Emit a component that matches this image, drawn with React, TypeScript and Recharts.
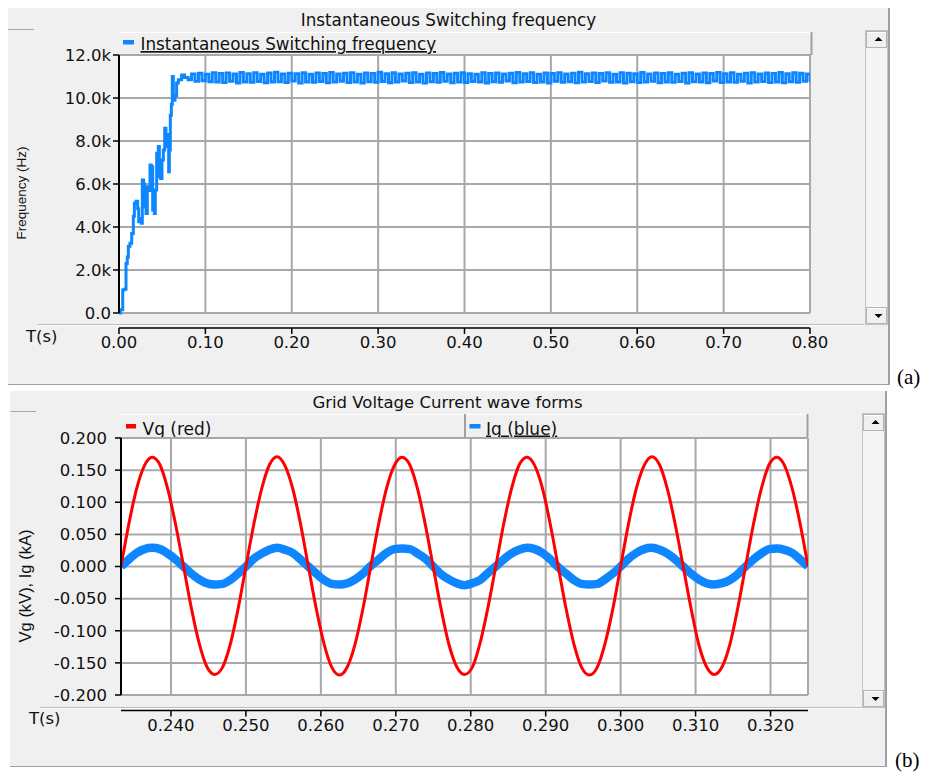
import React from 'react';
import { LineChart, Line, XAxis, YAxis, CartesianGrid, Label } from 'recharts';

const FONT = '"DejaVu Sans", Verdana, sans-serif';
const AXFONT = '"Liberation Sans", Arial, sans-serif';
const BLUE = '#0e86ff';
const RED = '#ff0000';
const GRID = '#a8a8a8';

// ---------- Panel (a): instantaneous switching frequency (kHz) ----------
const riseTime = [0, 0.0015, 0.0043, 0.006, 0.0081, 0.0096, 0.0108, 0.0127, 0.0147, 0.0166,
  0.0178, 0.0197, 0.0216, 0.0228, 0.0243, 0.0258, 0.027, 0.0285, 0.0297, 0.0313,
  0.0328, 0.0343, 0.0359, 0.0374, 0.039, 0.0409, 0.042, 0.0436, 0.0455, 0.0467,
  0.0482, 0.0498, 0.0513, 0.0529, 0.0544, 0.056, 0.0575, 0.0583, 0.0594, 0.0606,
  0.0617, 0.0629, 0.0648, 0.0667, 0.0687, 0.0725];
const riseFreq = [0.0, 0.15, 1.07, 1.1, 2.3, 2.6, 3.1, 3.25, 3.7, 4.5,
  5.1, 5.2, 4.85, 4.25, 4.4, 4.17, 6.19, 6.0, 4.94, 4.63,
  5.87, 5.7, 6.88, 6.8, 4.79, 4.63, 5.72, 7.43, 7.74, 6.34,
  6.26, 7.12, 7.58, 8.59, 8.3, 7.74, 6.57, 7.58, 9.2, 9.7,
  11.0, 9.9, 10.1, 10.7, 10.85, 11.07];
const steadyStart = 0.076;
const steadyStep = 0.004;
const steadyFreq = [
  10.95, 10.85, 11.12, 10.78, 11.15, 10.80, 11.10, 10.76, 11.18, 10.74,
  11.14, 10.72, 11.16, 10.78, 11.12, 10.70, 11.19, 10.75, 11.13, 10.73,
  11.17, 10.77, 11.11, 10.71, 11.16, 10.74, 11.20, 10.76, 11.12, 10.72,
  11.15, 10.79, 11.13, 10.70, 11.18, 10.75, 11.10, 10.73, 11.16, 10.77,
  11.14, 10.71, 11.19, 10.74, 11.12, 10.78, 11.15, 10.72, 11.17, 10.75,
  11.11, 10.70, 11.16, 10.76, 11.14, 10.73, 11.20, 10.77, 11.13, 10.71,
  11.18, 10.74, 11.12, 10.79, 11.15, 10.72, 11.17, 10.75, 11.11, 10.70,
  11.16, 10.76, 11.14, 10.73, 11.19, 10.78, 11.12, 10.71, 11.15, 10.74,
  11.17, 10.72, 11.13, 10.77, 11.10, 10.75, 11.18, 10.70, 11.14, 10.76,
  11.16, 10.73, 11.12, 10.79, 11.15, 10.71, 11.19, 10.74, 11.13, 10.77,
  11.17, 10.72, 11.11, 10.75, 11.16, 10.70, 11.14, 10.78, 11.18, 10.73,
  11.12, 10.76, 11.15, 10.71, 11.20, 10.74, 11.13, 10.77, 11.16, 10.72,
  11.14, 10.79, 11.17, 10.73, 11.11, 10.75, 11.18, 10.70, 11.15, 10.76,
  11.13, 10.72, 11.19, 10.74, 11.12, 10.78, 11.16, 10.71, 11.14, 10.75,
  11.17, 10.73, 11.10, 10.77, 11.15, 10.70, 11.18, 10.76, 11.12, 10.74,
  11.16, 10.71, 11.14, 10.79, 11.19, 10.72, 11.13, 10.75, 11.17, 10.73,
  11.11, 10.78, 11.15, 10.70, 11.18, 10.74, 11.12, 10.77, 11.16, 10.72,
  11.14, 10.75, 11.19, 10.71, 11.13, 10.76, 11.17, 10.73, 11.15, 10.78,
  11.12, 10.74];
const freqTicks = [0, 2, 4, 6, 8, 10, 12];
const timeTicksA = [0, 0.1, 0.2, 0.3, 0.4, 0.5, 0.6, 0.7, 0.8];

// ---------- Panel (b): grid voltage (kV) and current (kA) ----------
const waveStart = 14 / 60;
const waveStep = 1 / 960;
const vgValues = [
  0.000, 0.066, 0.121, 0.157, 0.170, 0.158, 0.120, 0.065, 0.001, -0.064, -0.119, -0.156, -0.168, -0.157, -0.121, -0.066,
  0.000, 0.065, 0.120, 0.158, 0.171, 0.157, 0.121, 0.066, 0.000, -0.065, -0.120, -0.157, -0.169, -0.156, -0.120, -0.065,
  0.001, 0.066, 0.121, 0.157, 0.170, 0.158, 0.120, 0.064, -0.001, -0.066, -0.121, -0.156, -0.168, -0.157, -0.119, -0.064,
  0.000, 0.065, 0.120, 0.158, 0.170, 0.157, 0.121, 0.065, 0.000, -0.065, -0.120, -0.157, -0.169, -0.157, -0.120, -0.066,
  0.000, 0.066, 0.121, 0.157, 0.171, 0.158, 0.120, 0.065, 0.001, -0.064, -0.121, -0.156, -0.168, -0.156, -0.121, -0.065,
  0.000, 0.065, 0.120, 0.158, 0.170, 0.157, 0.120, 0.066, 0.000];
const igValues = [
  0.000, 0.011, 0.021, 0.027, 0.029, 0.027, 0.020, 0.011, 0.000, -0.011, -0.020, -0.026, -0.028, -0.027, -0.021, -0.011,
  0.000, 0.012, 0.020, 0.026, 0.029, 0.026, 0.021, 0.011, 0.000, -0.011, -0.021, -0.027, -0.028, -0.026, -0.020, -0.011,
  0.001, 0.011, 0.021, 0.027, 0.028, 0.027, 0.020, 0.012, 0.000, -0.012, -0.020, -0.026, -0.029, -0.026, -0.021, -0.010,
  0.000, 0.011, 0.020, 0.026, 0.029, 0.027, 0.021, 0.011, -0.001, -0.011, -0.021, -0.027, -0.028, -0.027, -0.020, -0.011,
  0.000, 0.012, 0.021, 0.027, 0.029, 0.026, 0.020, 0.011, 0.000, -0.011, -0.020, -0.026, -0.028, -0.026, -0.021, -0.012,
  0.000, 0.011, 0.020, 0.027, 0.028, 0.026, 0.021, 0.011, 0.000];
const voltTicks = [-0.2, -0.15, -0.1, -0.05, 0, 0.05, 0.1, 0.15, 0.2];
const timeTicksB = [0.24, 0.25, 0.26, 0.27, 0.28, 0.29, 0.3, 0.31, 0.32];

const freqData = [
  ...riseTime.map((t, i) => ({ t, f: riseFreq[i] })),
  ...steadyFreq.map((f, i) => ({ t: steadyStart + i * steadyStep, f })),
];
const waveData = vgValues.map((v, i) => ({ t: waveStart + i * waveStep, vg: v, ig: igValues[i] }));

const makeXTick = (gap: number, base: number, digits: number) => (p: any) => {
  const { x, y, payload } = p;
  return (
    <g>
      <line x1={x} x2={x} y1={y + gap} y2={y + gap + 6} stroke="#000" strokeWidth={1.5} />
      <text x={x} y={y + base} textAnchor="middle" fontFamily={FONT} fontSize={16.5} fill="#111">
        {Number(payload.value).toFixed(digits)}
      </text>
    </g>
  );
};

function ScrollBar({ x, y, w, h }: { x: number; y: number; w: number; h: number }) {
  const cx = x + w / 2 + 2;
  return (
    <g>
      <rect x={x + 0.5} y={y + 0.5} width={w - 1} height={h - 1} fill="#f5f5f5" stroke="#c4c4c4" />
      <rect x={x + 1.5} y={y + 1.5} width={w - 3} height={16} fill="#f0f0f0" stroke="#b4b4b4" />
      <line x1={x + 2} y1={y + 2.5} x2={x + w - 2} y2={y + 2.5} stroke="#fff" />
      <path d={`M${cx - 4} ${y + 11} L${cx + 4} ${y + 11} L${cx} ${y + 7} Z`} fill="#000" />
      <rect x={x + 1.5} y={y + h - 17.5} width={w - 3} height={16} fill="#f0f0f0" stroke="#b4b4b4" />
      <line x1={x + 2} y1={y + h - 16.5} x2={x + w - 2} y2={y + h - 16.5} stroke="#fff" />
      <path d={`M${cx - 4} ${y + h - 11} L${cx + 4} ${y + h - 11} L${cx} ${y + h - 7} Z`} fill="#000" />
    </g>
  );
}

function Frame() {
  return (
    <svg width={927} height={774} style={{ position: 'absolute', left: 0, top: 0 }}>
      <rect x={0} y={0} width={927} height={774} fill="#fff" />
      {/* panel (a) */}
      <rect x={8} y={8} width={881} height={376} fill="#f0f0f0" />
      <line x1={889} y1={8} x2={889} y2={385} stroke="#a0a0a0" strokeWidth={2} />
      <line x1={8} y1={384.5} x2={889} y2={384.5} stroke="#a0a0a0" />
      <line x1={8} y1={29.5} x2={34} y2={29.5} stroke="#a8a8a8" />
      <line x1={37} y1={324.5} x2={864} y2={324.5} stroke="#bcbcbc" />
      <line x1={37} y1={325.5} x2={864} y2={325.5} stroke="#fff" />
      <text x={448.5} y={26} textAnchor="middle" fontFamily={FONT} fontSize={16.8} fill="#111">
        Instantaneous Switching frequency
      </text>
      <rect x={119} y={32} width={693} height={23} fill="#f0f0f0" />
      <line x1={119} y1={32.5} x2={812} y2={32.5} stroke="#fff" />
      <line x1={811.5} y1={32} x2={811.5} y2={55} stroke="#a0a0a0" strokeWidth={2} />
      <line x1={119} y1={54.5} x2={812} y2={54.5} stroke="#a0a0a0" />
      <rect x={123} y={40} width={11} height={4.5} fill={BLUE} />
      <text x={140.5} y={50} fontFamily={FONT} fontSize={16.8} fill="#111" style={{ textDecoration: 'underline' }}>
        Instantaneous Switching frequency
      </text>
      <ScrollBar x={865} y={30} w={23} h={295} />
      <text x={897} y={384} fontFamily='"Liberation Serif", serif' fontSize={21} fill="#000">(a)</text>

      {/* panel (b) */}
      <rect x={10} y={391} width={876} height={375} fill="#f0f0f0" />
      <line x1={886} y1={391} x2={886} y2={767} stroke="#a0a0a0" strokeWidth={2} />
      <line x1={10} y1={766.5} x2={886} y2={766.5} stroke="#a0a0a0" />
      <line x1={10} y1={411.5} x2={36} y2={411.5} stroke="#a8a8a8" />
      <line x1={40} y1={707.5} x2={862} y2={707.5} stroke="#bcbcbc" />
      <line x1={40} y1={708.5} x2={862} y2={708.5} stroke="#fff" />
      <text x={447.5} y={408} textAnchor="middle" fontFamily={FONT} fontSize={16.5} fill="#111">
        Grid Voltage Current wave forms
      </text>
      <rect x={119} y={414} width={689} height={23} fill="#f0f0f0" />
      <line x1={119} y1={414.5} x2={808} y2={414.5} stroke="#fff" />
      <line x1={465} y1={414} x2={465} y2={437} stroke="#a0a0a0" strokeWidth={2} />
      <line x1={807.5} y1={414} x2={807.5} y2={437} stroke="#a0a0a0" strokeWidth={2} />
      <line x1={119} y1={437.5} x2={808} y2={437.5} stroke="#a0a0a0" />
      <rect x={126} y={424} width={10} height={4.5} fill={RED} />
      <text x={142.5} y={434.5} fontFamily={FONT} fontSize={17} fill="#111">Vg (red)</text>
      <rect x={469.5} y={424} width={11} height={4.5} fill={BLUE} />
      <text x={486} y={434.5} fontFamily={FONT} fontSize={17} fill="#111" style={{ textDecoration: 'underline' }}>
        Ig (blue)
      </text>
      <ScrollBar x={862} y={413} w={23} h={295} />
      <text x={895} y={767} fontFamily='"Liberation Serif", serif' fontSize={21} fill="#000">(b)</text>
    </svg>
  );
}

export default function App() {
  return (
    <div style={{ position: 'absolute', left: 0, top: 0, width: 927, height: 774, background: '#fff' }}>
      <Frame />
      <div style={{ position: 'absolute', left: 0, top: 0 }}>
        <LineChart width={830} height={360} data={freqData} margin={{ top: 55, right: 20, left: 0, bottom: 0 }}>
          <CartesianGrid stroke={GRID} strokeWidth={2} fill="#fff" />
          <XAxis
            dataKey="t"
            type="number"
            domain={[0, 0.8]}
            ticks={timeTicksA}
            interval={0}
            height={47}
            allowDataOverflow
            tickSize={0}
            tickMargin={0}
            tickLine={false}
            axisLine={{ stroke: '#000', strokeWidth: 1.5, transform: 'translate(0,15)' } as any}
            tick={makeXTick(15, 35, 2)}
          >
            <Label
              content={() => (
                <text x={26} y={342} fontFamily={FONT} fontSize={16.5} fill="#111">T(s)</text>
              )}
            />
          </XAxis>
          <YAxis
            type="number"
            domain={[0, 12]}
            ticks={freqTicks}
            interval={0}
            width={119}
            tickSize={6}
            tickMargin={2}
            axisLine={{ stroke: '#000', strokeWidth: 2 }}
            tickLine={{ stroke: '#000', strokeWidth: 1.5 }}
            tick={{ fontFamily: FONT, fontSize: 16.5, fill: '#111' }}
            tickFormatter={(v: number) => (v === 0 ? '0.0' : `${v.toFixed(1)}k`)}
          >
            <Label
              content={() => (
                <text transform="translate(26,193) rotate(-90)" textAnchor="middle" fontFamily={AXFONT} fontSize={13.5} fill="#111">
                  Frequency (Hz)
                </text>
              )}
            />
          </YAxis>
          <Line type="stepAfter" dataKey="f" stroke={BLUE} strokeWidth={3} dot={false} isAnimationActive={false} />
        </LineChart>
      </div>
      <div style={{ position: 'absolute', left: 0, top: 380 }}>
        <LineChart width={830} height={380} data={waveData} margin={{ top: 58, right: 22, left: 0, bottom: 0 }}>
          <CartesianGrid stroke={GRID} strokeWidth={2} fill="#fff" />
          <XAxis
            dataKey="t"
            type="number"
            domain={[waveStart, 0.325]}
            ticks={timeTicksB}
            interval={0}
            height={65}
            allowDataOverflow
            tickSize={0}
            tickMargin={0}
            tickLine={false}
            axisLine={{ stroke: '#000', strokeWidth: 1.5, transform: 'translate(0,15.5)' } as any}
            tick={makeXTick(15.5, 36, 3)}
          >
            <Label
              content={() => (
                <text x={29} y={344} fontFamily={FONT} fontSize={16.5} fill="#111">T(s)</text>
              )}
            />
          </XAxis>
          <YAxis
            type="number"
            domain={[-0.2, 0.2]}
            ticks={voltTicks}
            interval={0}
            width={121}
            tickSize={6}
            tickMargin={8}
            axisLine={{ stroke: '#000', strokeWidth: 2 }}
            tickLine={{ stroke: '#000', strokeWidth: 1.5 }}
            tick={{ fontFamily: FONT, fontSize: 16.5, fill: '#111' }}
            tickFormatter={(v: number) => v.toFixed(3)}
          >
            <Label
              content={() => (
                <text transform="translate(31,206) rotate(-90)" textAnchor="middle" fontFamily={AXFONT} fontSize={16.5} fill="#111">
                  Vg (kV), Ig (kA)
                </text>
              )}
            />
          </YAxis>
          <Line type="monotone" dataKey="ig" stroke={BLUE} strokeWidth={8.5} dot={false} isAnimationActive={false} />
          <Line type="monotone" dataKey="vg" stroke={RED} strokeWidth={3} dot={false} isAnimationActive={false} />
        </LineChart>
      </div>
    </div>
  );
}
